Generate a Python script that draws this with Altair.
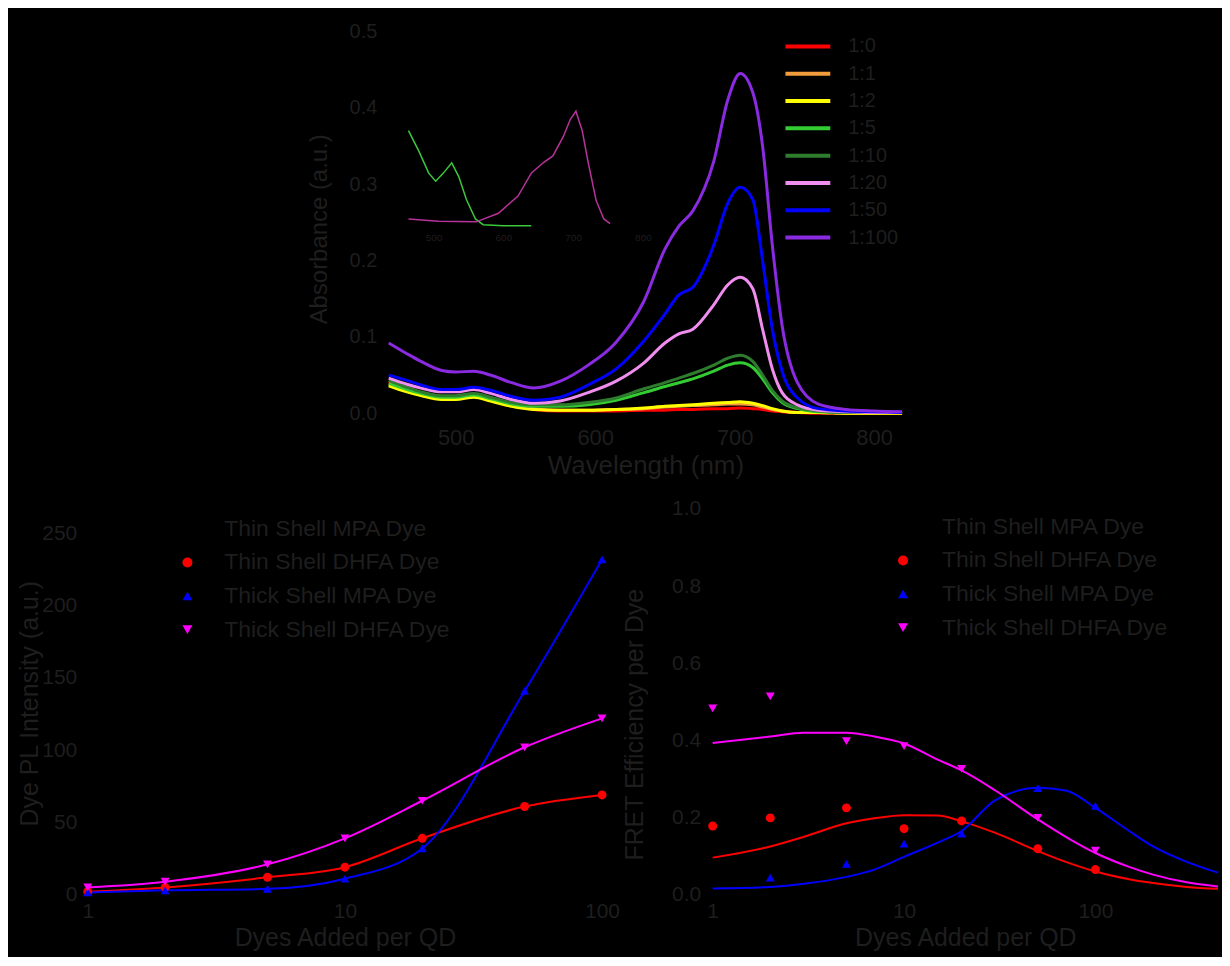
import altair as alt
import pandas as pd

FONT = "Liberation Sans"
TXT = "#1e1e1e"

# ---------------- top panel: absorbance spectra ----------------
wavelength = [452, 465, 475, 490, 500, 513, 525, 540, 556, 575, 595, 615, 635, 650,
              660, 670, 685, 695, 704, 713, 720, 727, 734, 745, 760, 780, 800, 820]
ratios = ["1:0", "1:1", "1:2", "1:5", "1:10", "1:20", "1:50", "1:100"]
ratio_colors = ["#ff0000", "#f39c3c", "#ffff00", "#33cc33", "#2e7d2e", "#f08ef0", "#0000ff", "#8a2be2"]

abs_1_0 = [0.041, 0.032, 0.027, 0.022, 0.022, 0.025, 0.019, 0.010, 0.005, 0.003, 0.003, 0.003, 0.004, 0.004,
           0.005, 0.005, 0.006, 0.006, 0.007, 0.006, 0.005, 0.003, 0.002, 0.001, 0.000, 0.000, 0.000, 0.000]
abs_1_1 = [0.038, 0.030, 0.025, 0.020, 0.020, 0.023, 0.018, 0.010, 0.006, 0.004, 0.004, 0.005, 0.006, 0.008,
           0.009, 0.010, 0.011, 0.012, 0.012, 0.011, 0.008, 0.005, 0.003, 0.001, 0.001, 0.000, 0.000, 0.000]
abs_1_2 = [0.036, 0.028, 0.023, 0.018, 0.018, 0.021, 0.016, 0.009, 0.005, 0.004, 0.004, 0.005, 0.007, 0.009,
           0.010, 0.011, 0.013, 0.014, 0.015, 0.013, 0.010, 0.006, 0.003, 0.001, 0.001, 0.000, 0.000, 0.000]
abs_1_5 = [0.039, 0.031, 0.026, 0.021, 0.021, 0.024, 0.019, 0.012, 0.009, 0.009, 0.011, 0.017, 0.027, 0.035,
           0.040, 0.045, 0.055, 0.063, 0.066, 0.060, 0.045, 0.027, 0.014, 0.006, 0.002, 0.001, 0.001, 0.001]
abs_1_10 = [0.043, 0.034, 0.028, 0.023, 0.023, 0.026, 0.021, 0.014, 0.011, 0.011, 0.014, 0.020, 0.032, 0.040,
            0.046, 0.052, 0.063, 0.072, 0.076, 0.068, 0.050, 0.030, 0.016, 0.007, 0.003, 0.001, 0.001, 0.001]
abs_1_20 = [0.046, 0.038, 0.033, 0.028, 0.028, 0.031, 0.026, 0.018, 0.013, 0.016, 0.027, 0.042, 0.066, 0.092,
            0.104, 0.110, 0.142, 0.168, 0.178, 0.163, 0.110, 0.058, 0.027, 0.011, 0.004, 0.002, 0.001, 0.001]
abs_1_50 = [0.050, 0.043, 0.037, 0.031, 0.031, 0.034, 0.030, 0.022, 0.017, 0.021, 0.037, 0.058, 0.095, 0.130,
            0.155, 0.165, 0.220, 0.275, 0.296, 0.280, 0.200, 0.110, 0.055, 0.020, 0.006, 0.003, 0.002, 0.001]
abs_1_100 = [0.092, 0.078, 0.068, 0.056, 0.054, 0.055, 0.050, 0.040, 0.033, 0.042, 0.063, 0.093, 0.147, 0.215,
             0.245, 0.265, 0.330, 0.410, 0.445, 0.420, 0.350, 0.220, 0.115, 0.040, 0.012, 0.005, 0.003, 0.002]
spectra = [abs_1_0, abs_1_1, abs_1_2, abs_1_5, abs_1_10, abs_1_20, abs_1_50, abs_1_100]

# inset spectra
inset_qd_wl = [464, 479, 493, 503, 514, 526, 536, 547, 560, 571, 600, 640]
inset_qd = [0.83, 0.65, 0.46, 0.39, 0.46, 0.55, 0.43, 0.23, 0.06, 0.01, 0.0, 0.0]
inset_dye_wl = [464, 507, 561, 593, 621, 640, 657, 671, 686, 696, 704, 713, 721, 733, 744, 753]
inset_dye = [0.06, 0.04, 0.035, 0.11, 0.26, 0.46, 0.55, 0.61, 0.78, 0.93, 1.0, 0.83, 0.57, 0.22, 0.06, 0.02]

# ---------------- bottom panels ----------------
series = ["Thin Shell MPA Dye", "Thin Shell DHFA Dye", "Thick Shell MPA Dye", "Thick Shell DHFA Dye"]
series_colors = ["#000000", "#ff0000", "#0000ff", "#ff00ff"]
series_shapes = ["square", "circle", "triangle-up", "triangle-down"]

doses = [1, 2, 5, 10, 20, 50, 100]
left_thin_dhfa = [2, 5, 12, 19, 39, 61, 69]
left_thick_mpa = [1.5, 3, 4, 11, 32, 141, 232]
left_thick_dhfa = [5, 9, 21, 39, 65, 102, 122]

right_thin_dhfa = [0.178, 0.199, 0.225, 0.171, 0.191, 0.119, 0.065]
right_thick_mpa_doses = [2, 5, 10, 20, 50, 100]
right_thick_mpa = [0.044, 0.080, 0.132, 0.158, 0.276, 0.230]
right_thick_dhfa = [0.483, 0.514, 0.398, 0.385, 0.326, 0.199, 0.114]

fit_doses = [1, 2, 3, 5, 7, 10, 15, 20, 30, 50, 70, 100, 150, 200, 300, 437]
fit_thin_dhfa = [0.096, 0.125, 0.150, 0.185, 0.198, 0.206, 0.205, 0.190, 0.160, 0.113, 0.085, 0.060,
                 0.040, 0.030, 0.020, 0.015]
fit_thick_mpa = [0.016, 0.020, 0.028, 0.046, 0.065, 0.098, 0.135, 0.165, 0.245, 0.277, 0.270, 0.225,
                 0.165, 0.125, 0.085, 0.057]
fit_thick_dhfa = [0.393, 0.410, 0.420, 0.420, 0.410, 0.392, 0.350, 0.322, 0.270, 0.195, 0.150, 0.108,
                  0.072, 0.052, 0.032, 0.021]

# ---------------- tables ----------------
spec_rows = []
for r, vals in zip(ratios, spectra):
    for w, v in zip(wavelength, vals):
        spec_rows.append({"wavelength": w, "absorbance": v, "ratio": r})
df_spec = pd.DataFrame(spec_rows)

inset_rows = [{"wl": w, "v": v, "curve": "QD"} for w, v in zip(inset_qd_wl, inset_qd)]
inset_rows += [{"wl": w, "v": v, "curve": "Dye"} for w, v in zip(inset_dye_wl, inset_dye)]
df_inset = pd.DataFrame(inset_rows)

left_rows = []
for name, vals in [(series[1], left_thin_dhfa), (series[2], left_thick_mpa), (series[3], left_thick_dhfa)]:
    for d, v in zip(doses, vals):
        left_rows.append({"dose": d, "value": v, "series": name})
df_left = pd.DataFrame(left_rows)

right_rows = []
for name, ds, vals in [(series[1], doses, right_thin_dhfa), (series[2], right_thick_mpa_doses, right_thick_mpa),
                       (series[3], doses, right_thick_dhfa)]:
    for d, v in zip(ds, vals):
        right_rows.append({"dose": d, "value": v, "series": name})
df_right = pd.DataFrame(right_rows)

fit_rows = []
for name, vals in [(series[1], fit_thin_dhfa), (series[2], fit_thick_mpa), (series[3], fit_thick_dhfa)]:
    for d, v in zip(fit_doses, vals):
        fit_rows.append({"dose": d, "value": v, "series": name})
df_fit = pd.DataFrame(fit_rows)

# ---------------- top chart (plot placed inside a wider view via scale range) ----------------
X0 = 302  # left edge of the spectra plot inside the top view
top_x_axis = alt.Axis(values=[500, 600, 700, 800], format="d", title="Wavelength (nm)",
                      labelFontSize=22, titleFontSize=26, labelPadding=14, titlePadding=4,
                      tickSize=0, labelFlush=False, domain=False)
top_y_axis = alt.Axis(values=[0, 0.1, 0.2, 0.3, 0.4, 0.5], format=".1f", title="Absorbance (a.u.)",
                      labelFontSize=20, labelPadding=12, tickSize=0, offset=-X0, domain=False,
                      titleX=-57, titleY=198, titleFontSize=24)

top_lines = alt.Chart(df_spec).mark_line(strokeWidth=3, interpolate="monotone").encode(
    x=alt.X("wavelength:Q", scale=alt.Scale(domain=[452, 820], range=[X0, X0 + 515], nice=False, zero=False),
            axis=top_x_axis),
    y=alt.Y("absorbance:Q", scale=alt.Scale(domain=[0, 0.5], nice=False), axis=top_y_axis),
    color=alt.Color("ratio:N", scale=alt.Scale(domain=ratios, range=ratio_colors), sort=ratios,
                    legend=alt.Legend(orient="none", legendX=X0 + 396, legendY=1.5, title=None,
                                      symbolType="stroke", symbolSize=2025, symbolStrokeWidth=4,
                                      labelFontSize=20, labelOffset=16, rowPadding=0.4, clipHeight=27,
                                      padding=0, labelLimit=0)),
)

inset = alt.Chart(df_inset).mark_line(strokeWidth=1.5).encode(
    x=alt.X("wl:Q", scale=alt.Scale(domain=[500, 800], range=[X0 + 45, X0 + 255], nice=False, zero=False),
            axis=alt.Axis(orient="bottom", offset=-185, values=[500, 600, 700, 800], format="d",
                          labelFontSize=10, labelPadding=4, tickSize=0, title=None, domain=False,
                          labelFlush=False)),
    y=alt.Y("v:Q", scale=alt.Scale(domain=[0, 1], range=[195, 80], nice=False), axis=None),
    stroke=alt.Stroke("curve:N", scale=alt.Scale(domain=["QD", "Dye"], range=["#3cc83c", "#b8329a"]),
                      legend=None),
)

top = alt.layer(top_lines, inset).resolve_scale(
    x="independent", y="independent").properties(width=X0 + 515, height=383)

# ---------------- bottom-left chart ----------------
color_scale = alt.Scale(domain=series, range=series_colors)
shape_scale = alt.Scale(domain=series, range=series_shapes)
stroke_scale = alt.Scale(domain=series[1:], range=series_colors[1:])


def bottom_legend(lx, ly, offset):
    return alt.Legend(orient="none", legendX=lx, legendY=ly, title=None, symbolSize=100,
                      labelFontSize=23, labelOffset=offset, rowPadding=9.7, padding=0,
                      symbolOpacity=1, labelLimit=0)


leg_l = bottom_legend(88.5, 8.5, 25.5)
xl = alt.X("dose:Q", scale=alt.Scale(type="log", domain=[1, 100], nice=False),
           axis=alt.Axis(values=[1, 10, 100], format="d", title="Dyes Added per QD", labelFontSize=21,
                         titleFontSize=25, labelPadding=6, titlePadding=4, tickSize=0, labelFlush=False))
yl = alt.Y("value:Q", scale=alt.Scale(domain=[0, 267], nice=False),
           axis=alt.Axis(values=[0, 50, 100, 150, 200, 250], title="Dye PL Intensity (a.u.)",
                         labelFontSize=21, labelPadding=11, tickSize=0, minExtent=80, maxExtent=80,
                         titleX=-45, titleY=195, titleFontSize=25))

left_lines = alt.Chart(df_left).mark_line(strokeWidth=2, interpolate="monotone").encode(
    x=xl, y=yl, stroke=alt.Stroke("series:N", scale=stroke_scale, legend=None))
left_pts = alt.Chart(df_left).mark_point(filled=True, size=80, opacity=1).encode(
    x=xl, y=yl,
    color=alt.Color("series:N", scale=color_scale, legend=leg_l),
    shape=alt.Shape("series:N", scale=shape_scale, legend=leg_l))
left = alt.layer(left_lines, left_pts).properties(width=516, height=387)

# ---------------- bottom-right chart ----------------
leg_r = bottom_legend(179.5, 6.5, 27.5)
xr = alt.X("dose:Q", scale=alt.Scale(type="log", domain=[1, 437], nice=False),
           axis=alt.Axis(values=[1, 10, 100], format="d", title="Dyes Added per QD", labelFontSize=21,
                         titleFontSize=25, labelPadding=6, titlePadding=4, tickSize=0, labelFlush=False))
yr = alt.Y("value:Q", scale=alt.Scale(domain=[0, 1], nice=False),
           axis=alt.Axis(values=[0, 0.2, 0.4, 0.6, 0.8, 1.0], format=".1f", title="FRET Efficiency per Dye",
                         labelFontSize=21, labelPadding=12, tickSize=0, minExtent=90, maxExtent=90,
                         titleX=-65, titleY=216, titleFontSize=25))

right_lines = alt.Chart(df_fit).mark_line(strokeWidth=2, interpolate="monotone").encode(
    x=xr, y=yr, stroke=alt.Stroke("series:N", scale=stroke_scale, legend=None))
right_pts = alt.Chart(df_right).mark_point(filled=True, size=80, opacity=1).encode(
    x=xr, y=yr,
    color=alt.Color("series:N", scale=color_scale, legend=leg_r),
    shape=alt.Shape("series:N", scale=shape_scale, legend=leg_r))
right = alt.layer(right_lines, right_pts).properties(width=507, height=387)

bottom = alt.hconcat(left, right, spacing=111, bounds="flush").resolve_scale(
    color="independent", shape="independent", stroke="independent").resolve_legend(
    color="independent", shape="independent")

chart = alt.vconcat(top, bottom, spacing=20).resolve_scale(
    color="independent", shape="independent", stroke="independent").resolve_legend(
    color="independent", shape="independent").properties(
    background="black",
    padding={"top": 12, "left": 0, "right": 0, "bottom": 5},
).configure_view(stroke=None).configure_axis(
    labelColor=TXT, titleColor=TXT, labelFont=FONT, titleFont=FONT,
    domainColor="black", tickColor="black", grid=False, titleFontWeight="normal"
).configure_legend(labelColor=TXT, labelFont=FONT)

chart.save("out.html", embed_options={"renderer": "svg", "actions": False})
